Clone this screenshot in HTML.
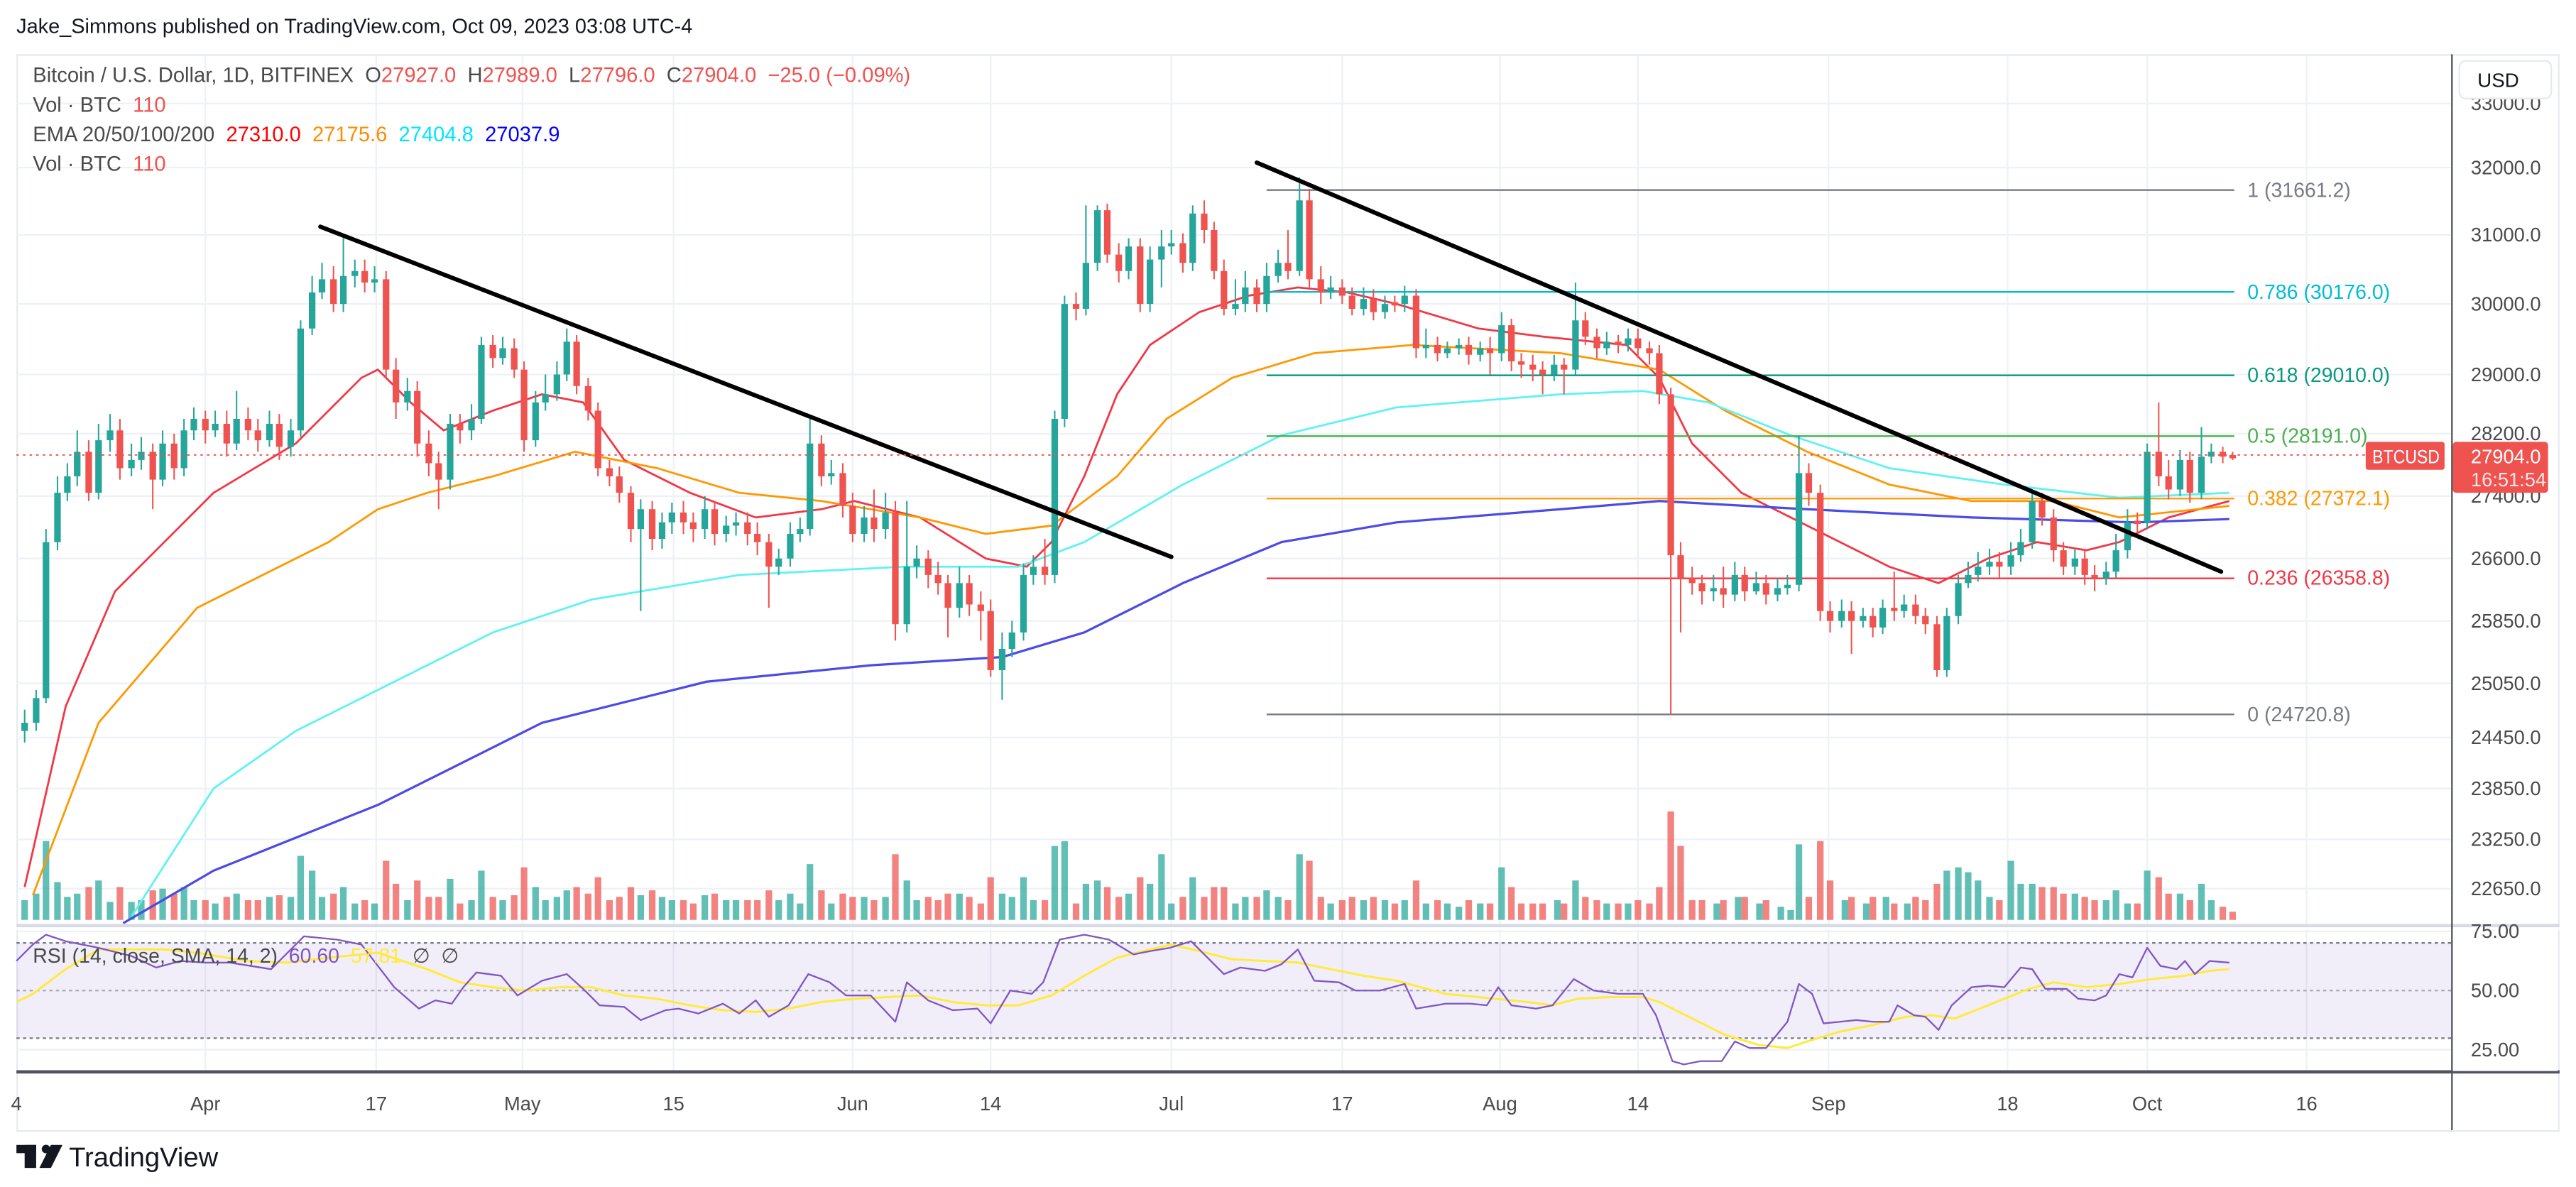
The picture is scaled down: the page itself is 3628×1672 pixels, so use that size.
<!DOCTYPE html>
<html><head><meta charset="utf-8">
<style>
html,body{margin:0;padding:0;background:#fff;}
svg{display:block;font-family:"Liberation Sans",sans-serif;}
.pre{white-space:pre;}
</style></head>
<body>
<svg width="3628" height="1672" viewBox="0 0 1568 722.6" preserveAspectRatio="none" xmlns="http://www.w3.org/2000/svg">
<rect width="1568" height="722.6" fill="#fff"/>
<text x="10" y="20" font-size="12.5" fill="#131722">Jake_Simmons published on TradingView.com, Oct 09, 2023 03:08 UTC-4</text>
<rect x="10.5" y="33.5" width="1547" height="655" fill="none" stroke="#e6e9ef" stroke-width="1"/>
<g stroke="#eef1f5" stroke-width="1">
<path d="M125 34V652M229 34V652M318 34V652M410 34V652M519 34V652M603 34V652M713 34V652M817 34V652M913 34V652M997 34V652M1113 34V652M1222 34V652M1307 34V652M1404 34V652"/>
<path d="M10 63H1492M10 102H1492M10 143H1492M10 185H1492M10 228H1492M10 264H1492M10 302H1492M10 340H1492M10 378H1492M10 416H1492M10 449H1492M10 480H1492M10 511H1492M10 541H1492M10 567H1492M10 639H1492"/>
</g>
<!-- volume -->
<g fill-opacity="0.72">
<path fill="#26a69a" d="M13 548h4V560h-4zM20 544h4V560h-4zM26 512h4V560h-4zM33 537h4V560h-4zM39 546h4V560h-4zM45 544h4V560h-4zM58 536h4V560h-4zM65 549h4V560h-4zM78 549h4V560h-4zM84 548h4V560h-4zM97 541h4V560h-4zM110 540h4V560h-4zM116 548h4V560h-4zM129 550h4V560h-4zM142 544h4V560h-4zM162 546h4V560h-4zM175 546h4V560h-4zM181 521h4V560h-4zM188 530h4V560h-4zM194 546h4V560h-4zM207 540h4V560h-4zM214 550h4V560h-4zM226 550h4V560h-4zM246 548h4V560h-4zM272 535h4V560h-4zM285 548h4V560h-4zM291 530h4V560h-4zM304 548h4V560h-4zM324 540h4V560h-4zM330 548h4V560h-4zM337 546h4V560h-4zM343 542h4V560h-4zM388 545h4V560h-4zM401 546h4V560h-4zM407 548h4V560h-4zM427 545h4V560h-4zM440 548h4V560h-4zM446 548h4V560h-4zM472 548h4V560h-4zM479 544h4V560h-4zM485 550h4V560h-4zM491 526h4V560h-4zM504 550h4V560h-4zM524 546h4V560h-4zM537 546h4V560h-4zM550 536h4V560h-4zM556 548h4V560h-4zM582 544h4V560h-4zM608 544h4V560h-4zM614 546h4V560h-4zM621 534h4V560h-4zM627 548h4V560h-4zM640 515h4V560h-4zM646 512h4V560h-4zM659 538h4V560h-4zM666 536h4V560h-4zM685 544h4V560h-4zM698 538h4V560h-4zM705 520h4V560h-4zM711 550h4V560h-4zM724 534h4V560h-4zM750 550h4V560h-4zM756 546h4V560h-4zM769 542h4V560h-4zM776 546h4V560h-4zM789 520h4V560h-4zM808 550h4V560h-4zM828 548h4V560h-4zM841 548h4V560h-4zM853 548h4V560h-4zM866 550h4V560h-4zM879 550h4V560h-4zM886 552h4V560h-4zM899 550h4V560h-4zM912 528h4V560h-4zM946 548h4V560h-4zM957 536h4V560h-4zM976 550h4V560h-4zM989 550h4V560h-4zM1043 550h4V560h-4zM1056 546h4V560h-4zM1069 550h4V560h-4zM1082 552h4V560h-4zM1088 554h4V560h-4zM1093 514h4V560h-4zM1121 548h4V560h-4zM1134 550h4V560h-4zM1146 546h4V560h-4zM1159 550h4V560h-4zM1183 530h4V560h-4zM1190 528h4V560h-4zM1196 531h4V560h-4zM1202 536h4V560h-4zM1209 546h4V560h-4zM1222 524h4V560h-4zM1228 538h4V560h-4zM1235 538h4V560h-4zM1261 544h4V560h-4zM1280 548h4V560h-4zM1286 542h4V560h-4zM1293 550h4V560h-4zM1305 530h4V560h-4zM1325 544h4V560h-4zM1338 538h4V560h-4zM1344 548h4V560h-4z"/>
<path fill="#ef5350" d="M52 540h4V560h-4zM71 540h4V560h-4zM91 542h4V560h-4zM104 544h4V560h-4zM123 548h4V560h-4zM136 546h4V560h-4zM149 548h4V560h-4zM155 548h4V560h-4zM168 545h4V560h-4zM201 544h4V560h-4zM220 548h4V560h-4zM233 524h4V560h-4zM239 538h4V560h-4zM252 536h4V560h-4zM259 546h4V560h-4zM265 546h4V560h-4zM278 550h4V560h-4zM298 546h4V560h-4zM311 545h4V560h-4zM317 528h4V560h-4zM349 540h4V560h-4zM356 544h4V560h-4zM362 534h4V560h-4zM369 548h4V560h-4zM375 546h4V560h-4zM382 540h4V560h-4zM395 542h4V560h-4zM414 548h4V560h-4zM420 550h4V560h-4zM433 544h4V560h-4zM453 548h4V560h-4zM459 548h4V560h-4zM466 542h4V560h-4zM498 542h4V560h-4zM511 544h4V560h-4zM517 546h4V560h-4zM530 548h4V560h-4zM543 520h4V560h-4zM563 546h4V560h-4zM569 548h4V560h-4zM575 544h4V560h-4zM588 546h4V560h-4zM595 550h4V560h-4zM601 534h4V560h-4zM634 548h4V560h-4zM653 550h4V560h-4zM672 540h4V560h-4zM679 546h4V560h-4zM692 534h4V560h-4zM718 546h4V560h-4zM731 546h4V560h-4zM737 540h4V560h-4zM743 540h4V560h-4zM763 546h4V560h-4zM782 548h4V560h-4zM795 524h4V560h-4zM802 546h4V560h-4zM815 548h4V560h-4zM821 546h4V560h-4zM834 546h4V560h-4zM847 550h4V560h-4zM860 536h4V560h-4zM873 548h4V560h-4zM892 548h4V560h-4zM905 550h4V560h-4zM918 540h4V560h-4zM924 550h4V560h-4zM931 550h4V560h-4zM937 550h4V560h-4zM950 550h4V560h-4zM963 546h4V560h-4zM970 548h4V560h-4zM983 550h4V560h-4zM995 548h4V560h-4zM1002 550h4V560h-4zM1008 540h4V560h-4zM1015 494h4V560h-4zM1021 515h4V560h-4zM1028 548h4V560h-4zM1034 548h4V560h-4zM1047 548h4V560h-4zM1060 546h4V560h-4zM1073 548h4V560h-4zM1099 546h4V560h-4zM1106 512h4V560h-4zM1112 536h4V560h-4zM1125 546h4V560h-4zM1138 546h4V560h-4zM1151 550h4V560h-4zM1164 546h4V560h-4zM1170 548h4V560h-4zM1177 538h4V560h-4zM1215 548h4V560h-4zM1241 540h4V560h-4zM1248 540h4V560h-4zM1254 544h4V560h-4zM1267 546h4V560h-4zM1273 548h4V560h-4zM1299 550h4V560h-4zM1312 534h4V560h-4zM1318 544h4V560h-4zM1331 548h4V560h-4zM1351 552h4V560h-4zM1357 555h4V560h-4z"/>
</g>
<!-- EMAs -->
<g fill="none" stroke-width="1.2" stroke-linejoin="round">
<polyline stroke="#f23645" points="15,540 40,430 70,360 100,330 130,300 180,270 220,230 230,225 250,245 270,262 300,250 330,240 355,245 380,280 420,300 460,315 500,310 520,305 560,315 600,340 625,345 640,330 660,290 680,240 700,210 730,190 760,180 790,175 820,178 850,185 900,200 940,205 990,210 1010,230 1030,270 1060,300 1080,310 1110,325 1150,345 1180,355 1210,340 1240,330 1270,335 1290,330 1320,315 1357,305"/>
<polyline stroke="#ff9800" points="20,545 60,440 120,370 200,330 230,310 260,300 300,290 350,275 400,285 450,300 500,305 560,315 600,325 640,320 680,290 710,255 750,230 800,215 860,210 950,215 1010,225 1050,250 1100,275 1150,295 1200,305 1250,305 1290,315 1357,308"/>
<polyline stroke="#5ef2f2" points="80,558 130,480 180,445 230,420 300,385 360,365 450,350 550,345 620,345 660,330 720,295 780,265 850,248 950,240 1000,238 1040,245 1090,265 1150,285 1220,295 1290,303 1357,300"/>
<polyline stroke="#4b4be6" stroke-width="1.4" points="75,562 130,530 230,490 330,440 430,415 530,405 610,400 660,385 720,355 780,330 850,318 950,310 1010,305 1100,310 1200,315 1300,318 1357,316"/>
</g>
<!-- fib -->
<g stroke-width="1">
<line x1="771" y1="115.7" x2="1360" y2="115.7" stroke="#787b86"/>
<line x1="771" y1="177.7" x2="1360" y2="177.7" stroke="#00bcd4"/>
<line x1="771" y1="228.5" x2="1360" y2="228.5" stroke="#089981"/>
<line x1="771" y1="265.5" x2="1360" y2="265.5" stroke="#4caf50"/>
<line x1="771" y1="303.5" x2="1360" y2="303.5" stroke="#ff9800"/>
<line x1="771" y1="352.1" x2="1360" y2="352.1" stroke="#f23645"/>
<line x1="771" y1="434.9" x2="1360" y2="434.9" stroke="#787b86"/>
</g>
<g font-size="12.3">
<text x="1368" y="120" fill="#787b86">1 (31661.2)</text>
<text x="1368" y="182" fill="#00bcd4">0.786 (30176.0)</text>
<text x="1368" y="232.5" fill="#089981">0.618 (29010.0)</text>
<text x="1368" y="269.5" fill="#4caf50">0.5 (28191.0)</text>
<text x="1368" y="307.5" fill="#ff9800">0.382 (27372.1)</text>
<text x="1368" y="356" fill="#f23645">0.236 (26358.8)</text>
<text x="1368" y="439" fill="#787b86">0 (24720.8)</text>
</g>
<!-- candles -->
<g stroke-width="0.9" fill="none">
<path stroke="#26a69a" d="M15 432V452M22 420V445M28 322V428M35 290V335M41 282V305M47 262V296M60 258V304M67 252V275M80 270V290M86 266V286M99 262V296M112 255V290M118 248V268M131 250V266M144 238V274M164 250V272M177 255V278M183 195V266M190 168V204M196 160V182M209 145V190M216 158V175M228 162V178M248 230V250M274 252V298M287 246V268M293 205V258M306 205V222M326 238V272M332 228V250M339 220V244M345 200V232M390 304V372M403 312V334M409 306V325M429 302V328M442 314V330M448 312V326M474 334V350M481 318V345M487 315V330M493 255V326M506 280V295M526 308V330M539 300V328M552 305V385M558 332V352M584 345V376M610 385V426M616 378V400M623 343V390M629 338V356M642 250V355M648 180V260M661 125V192M668 125V165M687 145V170M700 150V190M707 140V175M713 140V155M726 125V165M752 170V192M758 165V190M771 160V190M778 152V172M791 108V168M810 168V182M830 175V192M843 180V194M855 174V190M868 200V218M881 208V218M888 206V216M901 208V220M914 190V220M946 216V232M959 172V228M978 202V216M991 200V214M1043 350V366M1056 342V366M1069 348V362M1082 352V366M1088 350V362M1095 265V360M1121 365V382M1134 370V382M1146 365V386M1159 362V376M1185 370V412M1192 350V380M1198 342V358M1204 336V354M1211 334V350M1224 330V350M1230 322V342M1237 298V334M1263 334V350M1282 342V356M1288 325V352M1295 310V340M1307 270V322M1327 274V302M1340 260V304M1346 270V282"/>
<path stroke="#ef5350" d="M54 268V305M73 255V292M93 270V310M106 264V292M125 250V270M138 250V278M151 248V268M157 255V275M170 252V280M203 162V190M222 158V178M235 165V230M241 218V255M254 232V278M261 262V290M267 275V310M280 252V270M300 204V224M313 206V230M319 220V275M351 204V240M358 230V256M364 245V290M371 280V296M377 284V306M384 296V330M397 305V335M416 305V325M422 312V330M435 305V332M455 312V332M461 318V338M468 325V370M500 265V296M513 282V315M519 300V330M532 298V330M545 305V390M565 335V358M571 342V362M577 350V388M590 350V375M597 360V390M603 365V412M636 328V356M655 178V195M674 124V160M681 148V172M694 145V190M720 142V166M733 122V148M739 135V170M745 158V192M765 170V190M784 140V170M797 115V175M804 162V185M817 170V185M823 175V192M836 176V195M849 180V190M862 176V218M875 205V220M894 205V222M907 205V228M920 194V226M926 215V230M933 216V232M939 220V240M952 218V240M965 190V210M972 200V218M985 204V215M997 200V218M1004 208V222M1010 210V246M1017 236V435M1023 330V385M1030 345V362M1036 350V368M1049 345V370M1062 345V366M1075 350V368M1101 282V308M1108 295V378M1114 366V385M1127 366V398M1140 370V388M1153 348V378M1166 362V380M1172 370V386M1179 375V412M1217 336V352M1243 300V320M1250 310V342M1256 330V350M1269 334V356M1275 344V360M1301 312V324M1314 245V296M1320 280V304M1333 275V306M1353 272V282M1359 275V280"/>
</g>
<path fill="#26a69a" d="M13 440h4V445h-4zM20 425h4V440h-4zM26 330h4V425h-4zM33 300h4V330h-4zM39 290h4V300h-4zM45 275h4V290h-4zM58 268h4V300h-4zM65 262h4V268h-4zM78 280h4V285h-4zM84 275h4V280h-4zM97 270h4V292h-4zM110 262h4V285h-4zM116 255h4V262h-4zM129 258h4V262h-4zM142 255h4V270h-4zM162 258h4V268h-4zM175 262h4V272h-4zM181 200h4V262h-4zM188 178h4V200h-4zM194 170h4V178h-4zM207 168h4V185h-4zM214 165h4V168h-4zM226 170h4V172h-4zM246 238h4V245h-4zM272 258h4V292h-4zM285 255h4V262h-4zM291 210h4V255h-4zM304 212h4V218h-4zM324 245h4V268h-4zM330 240h4V245h-4zM337 228h4V240h-4zM343 208h4V228h-4zM388 310h4V322h-4zM401 318h4V328h-4zM407 312h4V318h-4zM427 310h4V322h-4zM440 320h4V325h-4zM446 318h4V320h-4zM472 340h4V345h-4zM479 325h4V340h-4zM485 322h4V325h-4zM491 270h4V322h-4zM504 288h4V290h-4zM524 315h4V325h-4zM537 312h4V322h-4zM550 345h4V380h-4zM556 340h4V345h-4zM582 355h4V370h-4zM608 395h4V408h-4zM614 385h4V395h-4zM621 350h4V385h-4zM627 345h4V350h-4zM640 255h4V350h-4zM646 185h4V255h-4zM659 160h4V188h-4zM666 128h4V160h-4zM685 150h4V165h-4zM698 158h4V185h-4zM705 150h4V158h-4zM711 148h4V150h-4zM724 130h4V160h-4zM750 185h4V188h-4zM756 175h4V185h-4zM769 168h4V185h-4zM776 160h4V168h-4zM789 122h4V165h-4zM808 175h4V178h-4zM828 182h4V188h-4zM841 185h4V190h-4zM853 180h4V185h-4zM866 210h4V212h-4zM879 212h4V215h-4zM886 210h4V212h-4zM899 212h4V216h-4zM912 198h4V215h-4zM944 222h4V228h-4zM957 195h4V225h-4zM976 208h4V212h-4zM989 206h4V210h-4zM1041 358h4V360h-4zM1054 350h4V362h-4zM1067 355h4V360h-4zM1080 358h4V362h-4zM1086 356h4V358h-4zM1093 288h4V356h-4zM1119 372h4V378h-4zM1132 375h4V378h-4zM1144 370h4V382h-4zM1157 368h4V372h-4zM1183 375h4V408h-4zM1190 355h4V375h-4zM1196 350h4V355h-4zM1202 345h4V350h-4zM1209 342h4V345h-4zM1222 338h4V345h-4zM1228 330h4V338h-4zM1235 305h4V330h-4zM1261 340h4V345h-4zM1280 348h4V352h-4zM1286 335h4V348h-4zM1293 318h4V335h-4zM1305 275h4V318h-4zM1325 280h4V298h-4zM1338 278h4V300h-4zM1344 275h4V278h-4z"/>
<path fill="#ef5350" d="M52 275h4V300h-4zM71 262h4V285h-4zM91 275h4V292h-4zM104 270h4V285h-4zM123 255h4V262h-4zM136 258h4V270h-4zM149 255h4V262h-4zM155 262h4V268h-4zM168 258h4V272h-4zM201 170h4V185h-4zM220 165h4V172h-4zM233 170h4V225h-4zM239 225h4V245h-4zM252 238h4V270h-4zM259 270h4V282h-4zM265 282h4V292h-4zM278 258h4V262h-4zM298 210h4V218h-4zM311 212h4V225h-4zM317 225h4V268h-4zM349 208h4V235h-4zM356 235h4V250h-4zM362 250h4V285h-4zM369 285h4V290h-4zM375 290h4V300h-4zM382 300h4V322h-4zM395 310h4V328h-4zM414 312h4V318h-4zM420 318h4V322h-4zM433 310h4V325h-4zM453 318h4V325h-4zM459 325h4V330h-4zM466 330h4V345h-4zM498 270h4V290h-4zM511 288h4V308h-4zM517 308h4V325h-4zM530 315h4V322h-4zM543 312h4V380h-4zM563 340h4V350h-4zM569 350h4V355h-4zM575 355h4V370h-4zM588 355h4V368h-4zM595 368h4V372h-4zM601 372h4V408h-4zM634 345h4V350h-4zM653 185h4V188h-4zM672 128h4V155h-4zM679 155h4V165h-4zM692 150h4V185h-4zM718 148h4V160h-4zM731 130h4V140h-4zM737 140h4V165h-4zM743 165h4V188h-4zM763 175h4V185h-4zM782 160h4V165h-4zM795 122h4V170h-4zM802 170h4V178h-4zM815 175h4V180h-4zM821 180h4V188h-4zM834 182h4V190h-4zM847 184h4V186h-4zM860 180h4V212h-4zM873 210h4V215h-4zM892 210h4V216h-4zM905 212h4V215h-4zM918 198h4V220h-4zM924 220h4V222h-4zM931 222h4V225h-4zM937 225h4V228h-4zM950 222h4V225h-4zM963 195h4V205h-4zM970 205h4V212h-4zM983 208h4V210h-4zM995 206h4V212h-4zM1002 212h4V215h-4zM1008 215h4V240h-4zM1015 240h4V338h-4zM1021 338h4V352h-4zM1028 352h4V355h-4zM1034 355h4V360h-4zM1047 358h4V362h-4zM1060 350h4V360h-4zM1073 355h4V362h-4zM1099 288h4V300h-4zM1106 300h4V372h-4zM1112 372h4V378h-4zM1125 372h4V378h-4zM1138 375h4V382h-4zM1151 370h4V372h-4zM1164 368h4V375h-4zM1170 375h4V380h-4zM1177 380h4V408h-4zM1215 342h4V345h-4zM1241 305h4V315h-4zM1248 315h4V335h-4zM1254 335h4V345h-4zM1267 340h4V350h-4zM1273 350h4V352h-4zM1299 317h4V319h-4zM1312 275h4V290h-4zM1318 290h4V298h-4zM1331 280h4V300h-4zM1351 275h4V278h-4zM1357 277h4V279h-4z"/>
<g stroke="#000" stroke-width="2.6" stroke-linecap="round">
<line x1="195" y1="138" x2="713" y2="339"/>
<line x1="765" y1="99" x2="1352" y2="348"/>
</g>
<line x1="10" y1="277" x2="1440" y2="277" stroke="#ef5350" stroke-width="0.8" stroke-dasharray="1.5,2.5"/>
<!-- legend -->
<g font-size="12.6" fill="#4a4a4a" class="pre">
<text x="20" y="50" class="pre">Bitcoin / U.S. Dollar, 1D, BITFINEX  O<tspan fill="#ef5350">27927.0</tspan>  H<tspan fill="#ef5350">27989.0</tspan>  L<tspan fill="#ef5350">27796.0</tspan>  C<tspan fill="#ef5350">27904.0  −25.0 (−0.09%)</tspan></text>
<text x="20" y="68" class="pre">Vol · BTC  <tspan fill="#ef5350">110</tspan></text>
<text x="20" y="86" class="pre">EMA 20/50/100/200  <tspan fill="#ff0000">27310.0</tspan>  <tspan fill="#ff8c00">27175.6</tspan>  <tspan fill="#00e5ff">27404.8</tspan>  <tspan fill="#0000ff">27037.9</tspan></text>
<text x="20" y="104" class="pre">Vol · BTC  <tspan fill="#ef5350">110</tspan></text>
</g>
<!-- RSI pane -->
<rect x="10" y="563" width="1548" height="3" fill="#fff"/>
<line x1="10" y1="563.5" x2="1558" y2="563.5" stroke="#d6dbe6" stroke-width="2"/>
<rect x="10" y="574" width="1482" height="58" fill="#7e57c2" fill-opacity="0.1"/>
<g stroke="#787b86" stroke-width="1" stroke-dasharray="2,2">
<line x1="10" y1="574" x2="1492" y2="574"/>
<line x1="10" y1="603" x2="1492" y2="603" stroke-opacity="0.6"/>
<line x1="10" y1="632" x2="1492" y2="632"/>
</g>
<g fill="none" stroke-linejoin="round">
<polyline stroke="#ffeb3b" stroke-width="1.3" points="10,610 20,605 40,590 60,578 80,578 100,578 120,580 150,585 175,586 200,583 230,580 260,590 280,598 300,601 320,603 340,601 360,601 380,606 400,608 420,612 440,615 460,616 480,614 500,610 520,608 540,607 560,606 580,610 600,612 620,612 640,606 660,594 680,583 700,578 713,575 730,579 750,584 790,586 810,590 830,594 850,597 880,605 910,608 930,610 945,612 960,608 980,607 1000,607 1010,610 1030,620 1050,630 1070,636 1088,638 1100,634 1120,628 1140,624 1160,619 1175,618 1190,620 1205,614 1220,608 1235,602 1250,598 1270,601 1290,599 1310,596 1330,594 1345,591 1357,590"/>
<polyline stroke="#7e57c2" stroke-width="1" points="10,585 20,575 28,569 40,573 60,577 80,582 95,589 110,585 125,586 140,586 165,590 185,570 205,572 220,575 230,588 240,601 255,614 265,609 275,611 282,601 290,592 305,594 315,606 330,597 345,593 355,602 365,612 380,613 390,621 405,615 413,614 425,617 440,611 450,617 460,609 468,619 480,612 492,593 505,598 515,606 530,606 545,622 552,598 565,609 580,615 595,614 603,623 615,603 628,605 635,598 645,572 660,569 675,572 690,581 700,579 712,577 725,573 735,583 745,593 755,589 770,591 780,587 790,578 800,597 815,598 825,603 840,603 855,599 862,614 880,611 895,611 905,612 912,601 920,612 935,614 945,612 958,596 970,603 985,605 1000,605 1008,618 1018,646 1025,648 1035,646 1048,646 1056,634 1065,638 1075,638 1088,622 1095,599 1103,605 1110,623 1120,622 1130,621 1140,622 1150,622 1155,612 1165,618 1172,619 1180,627 1188,612 1200,601 1210,600 1220,601 1230,589 1237,590 1245,602 1258,602 1265,608 1275,609 1282,606 1290,593 1298,595 1307,577 1315,588 1325,590 1330,585 1336,593 1345,585 1357,586"/>
</g>
<text x="20" y="586" font-size="12.3" fill="#4a4a4a" class="pre">RSI (14, close, SMA, 14, 2)  <tspan fill="#7e57c2">60.60</tspan>  <tspan fill="#ffeb3b">57.81</tspan>  ∅  ∅</text>
<line x1="10" y1="652.5" x2="1558" y2="652.5" stroke="#50535e" stroke-width="2"/>
<line x1="1492.5" y1="33" x2="1492.5" y2="688" stroke="#50535e" stroke-width="1"/>
<!-- price axis -->
<rect x="1493" y="34" width="64" height="528" fill="#fff"/>
<rect x="1493" y="566" width="64" height="86" fill="#fff"/>
<g font-size="11.8" fill="#4a4a4a">
<text x="1504" y="67">33000.0</text>
<text x="1504" y="106">32000.0</text>
<text x="1504" y="147">31000.0</text>
<text x="1504" y="189">30000.0</text>
<text x="1504" y="232">29000.0</text>
<text x="1504" y="268">28200.0</text>
<text x="1504" y="306">27400.0</text>
<text x="1504" y="344">26600.0</text>
<text x="1504" y="382">25850.0</text>
<text x="1504" y="420">25050.0</text>
<text x="1504" y="453">24450.0</text>
<text x="1504" y="484">23850.0</text>
<text x="1504" y="515">23250.0</text>
<text x="1504" y="545">22650.0</text>
<text x="1504" y="571">75.00</text>
<text x="1504" y="607">50.00</text>
<text x="1504" y="643">25.00</text>
</g>
<rect x="1497" y="37" width="56" height="23" rx="4" fill="#fff" stroke="#e6e9ef"/>
<text x="1508" y="53" font-size="12" fill="#131722">USD</text>
<rect x="1440" y="269" width="48" height="17" rx="1.5" fill="#ef5350"/>
<text x="1444" y="282" font-size="11.5" fill="#fff" textLength="41" lengthAdjust="spacingAndGlyphs">BTCUSD</text>
<rect x="1493" y="269" width="58" height="31" rx="2" fill="#ef5350"/>
<text x="1504" y="282" font-size="11.8" fill="#fff">27904.0</text>
<text x="1504" y="296" font-size="11.8" fill="#fff" fill-opacity="0.85">16:51:54</text>
<!-- time axis -->
<g font-size="11.8" fill="#4a4a4a" text-anchor="middle">
<text x="10" y="676">4</text><text x="125" y="676">Apr</text><text x="229" y="676">17</text>
<text x="318" y="676">May</text><text x="410" y="676">15</text><text x="519" y="676">Jun</text>
<text x="603" y="676">14</text><text x="713" y="676">Jul</text><text x="817" y="676">17</text>
<text x="913" y="676">Aug</text><text x="997" y="676">14</text><text x="1113" y="676">Sep</text>
<text x="1222" y="676">18</text><text x="1307" y="676">Oct</text><text x="1404" y="676">16</text>
</g>
<!-- footer logo -->
<g fill="#131722">
<rect x="10" y="697" width="12" height="5"/><rect x="15" y="697" width="7" height="14"/>
<circle cx="28" cy="699.5" r="2.6"/>
<polygon points="31,697 38,697 31,711 24,711"/>
<text x="42" y="710" font-size="16.5">TradingView</text>
</g>
</svg>
</body></html>
